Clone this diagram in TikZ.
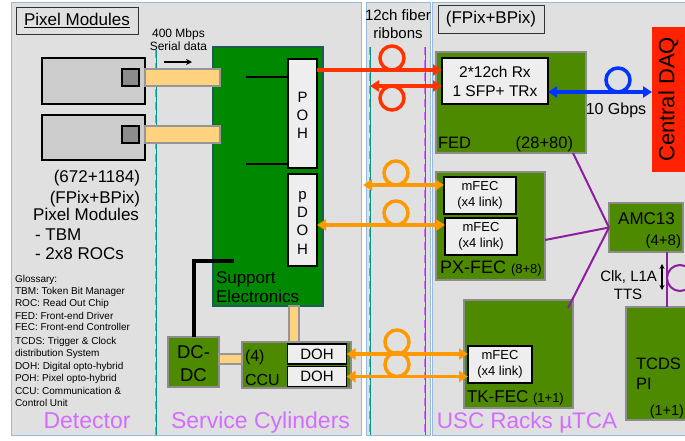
\documentclass[tikz,border=0pt]{standalone}
\usepackage{fontspec}
\setmainfont{Liberation Sans}
\usetikzlibrary{arrows.meta,calc}
\newcommand\fz[1]{\fontsize{#1}{#1}\selectfont}
\definecolor{panelbg}{RGB}{224,224,224}
\definecolor{panelborder}{RGB}{150,185,220}
\definecolor{oliveg}{RGB}{78,138,0}
\definecolor{boxgray}{RGB}{140,140,140}
\definecolor{supgreen}{RGB}{0,136,0}
\definecolor{supborder}{RGB}{30,90,90}
\definecolor{lightfill}{RGB}{238,238,238}
\definecolor{modfill}{RGB}{204,204,204}
\definecolor{sqfill}{RGB}{140,140,140}
\definecolor{barfill}{RGB}{255,210,128}
\definecolor{bargray}{RGB}{150,150,150}
\definecolor{fred}{RGB}{255,51,0}
\definecolor{forange}{RGB}{255,153,0}
\definecolor{fblue}{RGB}{0,51,255}
\definecolor{purpl}{RGB}{140,30,160}
\definecolor{ltpurp}{RGB}{210,110,255}
\definecolor{tealc}{RGB}{0,150,140}
\definecolor{daqred}{RGB}{255,34,0}
\begin{document}
\begin{tikzpicture}[x=1pt,y=-1pt,
  every node/.style={inner sep=0pt,outer sep=0pt},
  panel/.style={fill=panelbg,draw=panelborder,line width=1pt},
  olivebox/.style={draw=boxgray,line width=2pt,fill=oliveg},
  lightbox/.style={draw=black,line width=1.8pt,fill=lightfill,align=center},
  modbox/.style={draw=black,line width=1.8pt,fill=modfill},
  sqbox/.style={draw=black,line width=1.5pt,fill=sqfill},
  bar/.style={draw=bargray,line width=1.5pt,fill=barfill},
  titlebox/.style={draw=black!80,line width=1pt},
  fib/.style={line width=3.5pt},
  purpline/.style={draw=purpl,line width=2pt},
  dashdiv/.style={draw=ltpurp,line width=2.5pt,dash pattern=on 8pt off 5pt},
  tealdiv/.style={draw=tealc,line width=0.8pt},
  zone/.style={text=ltpurp,anchor=base},
  mfecfont/.style={font={\fontsize{13}{16}\selectfont}},
  >={Triangle[length=9pt,width=11pt]}
]
\useasboundingbox (0,0) rectangle (685,440);
\fill[white] (0,0) rectangle (685,440);
% panels
\path[panel] (11,2) rectangle (361,435);
\path[panel] (366,2) rectangle (430,435);
\path[panel] (432,2) rectangle (700,435);
% dividers
\draw[dashdiv] (156,50) -- (156,435);
\draw[tealdiv] (156,50) -- (156,435);
\draw[dashdiv] (370,47) -- (370,435);
\draw[tealdiv] (370,47) -- (370,435);
\draw[dashdiv] (425,47) -- (425,435);
\draw[tealdiv] (425,47) -- (425,435);

% title boxes
\node[titlebox,minimum width=122,minimum height=27] (ttl) at (77,20.5) {\fz{17}\underline{Pixel Modules}};
\node[titlebox,minimum width=106,minimum height=28] (fpb) at (491,19) {\fz{17}(FPix+BPix)};

% pixel modules
\node[modbox,minimum width=103,minimum height=46] (mod1) at (93.5,81) {};
\node[sqbox,minimum width=17,minimum height=17] (sq1) at (130.5,77.5) {};
\node[modbox,minimum width=103,minimum height=45] (mod2) at (93.5,137.5) {};
\node[sqbox,minimum width=17,minimum height=17] (sq2) at (130.5,134.5) {};

% support electronics
\node[draw=supborder,line width=1.5pt,fill=supgreen,minimum width=110,minimum height=259] (sup) at (268,176.5) {};
\node[lightbox,minimum width=29,minimum height=109] (POH) at (302.5,113.5) {};
\node[lightbox,minimum width=29,minimum height=92] (pDOH) at (302.5,220) {};
\node[align=center,font={\fontsize{15}{18}\selectfont}] (poht) at (302.5,115.7) {P\\O\\H};
\node[align=center,font={\fontsize{15}{18.3}\selectfont}] (pdoht) at (302.5,222.6) {p\\D\\O\\H};
\coordinate (s1) at (246,77);
\coordinate (s2) at (246,164);
\draw[line width=1.5pt] (s1) -- (POH.west |- s1);
\draw[line width=1.5pt] (s2) -- (POH.west |- s2);
\node[anchor=base west] (supt1) at (216,283) {\fz{17}Support};
\node[anchor=base west] (supt2) at (216,302) {\fz{17}Electronics};

% module bars
\draw[bar] (mod1.east |- sq1.north) rectangle ($(sup.west |- sq1.south)+(7,0)$);
\draw[bar] (mod2.east |- sq2.north) rectangle ($(sup.west |- sq2.south)+(7,0)$);

% DC-DC and CCU
\node[olivebox,minimum width=51,minimum height=50] (DCDC) at (193.5,362) {};
\node[anchor=base] (dct1) at (193.5,358.6) {\fz{18.5}DC-};
\node[anchor=base] (dct2) at (193.5,381) {\fz{18.5}DC};
\node[olivebox,minimum width=109,minimum height=46] (CCU) at (296.5,365) {};
\node[lightbox,minimum width=59,minimum height=20] (DOH1) at (317,354) {\fz{15}DOH};
\node[lightbox,minimum width=59,minimum height=20] (DOH2) at (317,376.5) {\fz{15}DOH};
\node[anchor=base west] (ccut1) at (245,361) {\fz{16}(4)};
\node[anchor=base west] (ccut2) at (245,385) {\fz{16}CCU};
\draw[bar] ($(DCDC.east)+(0,-8)$) rectangle ($(CCU.west)+(0,-1)$);
\draw[bar] ($(sup.south)+(21,0)$) rectangle ($(CCU.north)+(2.5,0)$);
\coordinate (Lend) at (234,261);
\draw[line width=4pt] (Lend) -- (Lend -| DCDC.north) -- (DCDC.north);

% serial data
\node[anchor=base] (t400) at (178.5,37) {\fz{12}400 Mbps};
\node[anchor=base] (tser) at (178.5,50) {\fz{12}Serial data};
\coordinate (sa1) at (164,62);
\coordinate (sa2) at (192,62);
\draw[line width=1.3pt,-{Stealth[length=6pt,width=6pt]}] (sa1) -- (sa2);

% detector texts
\node[anchor=base east] (pm1) at (140,182) {\fz{17}(672+1184)};
\node[anchor=base east] (pm2) at (140,203) {\fz{17}(FPix+BPix)};
\node[anchor=base east] (pm3) at (139,220) {\fz{17}Pixel Modules};
\node[anchor=base west] (pm4) at (35,240) {\fz{17}- TBM};
\node[anchor=base west] (pm5) at (35,259) {\fz{17}- 2x8 ROCs};
\foreach \t/\y [count=\i] in {Glossary:/282.5, TBM: Token Bit Manager/294.6, ROC: Read Out Chip/306.8, FED: Front-end Driver/319.4, FEC: Front-end Controller/330.8, TCDS: Trigger \& Clock/344.4, distribution System/356.6, DOH: Digital opto-hybrid/369.4, POH: Pixel opto-hybrid/381.6, CCU: Communication \&/394.4, Control Unit/406.6}
  \node[anchor=base west] (g\i) at (15,\y) {\fz{10}\t};

% zone labels
\node[zone] (zdet) at (87,428) {\fz{23}Detector};
\node[zone] (zsc) at (260.5,428) {\fz{23}Service Cylinders};
\node[zone] (zusc) at (527,428) {\fz{22.5}USC Racks µTCA};
\node[anchor=base] (fr1) at (398,20) {\fz{15}12ch fiber};
\node[anchor=base] (fr2) at (398,38) {\fz{15}ribbons};

% FED
\node[olivebox,minimum width=150,minimum height=101] (FED) at (511,102.5) {};
\node[lightbox,minimum width=106,minimum height=46,font={\fontsize{15.5}{19}\selectfont}] (FEDin) at (495,81) {2*12ch Rx\\1 SFP+ TRx};
\node[anchor=base west] (fedt) at (438,148) {\fz{16.5}FED};
\node[anchor=base east] (fedn) at (573,148) {\fz{16.5}(28+80)};

% Central DAQ
\node[fill=daqred,minimum width=48,minimum height=145] (DAQ) at (676,99.5) {};
\node[rotate=90] (daqt) at (668.5,99.5) {\fz{22}Central DAQ};

% PX-FEC
\node[olivebox,minimum width=109,minimum height=108] (PXFEC) at (490.5,226) {};
\node[lightbox,mfecfont,minimum width=72,minimum height=37] (mfec1) at (480,195.5) {mFEC\\(x4 link)};
\node[lightbox,mfecfont,minimum width=72,minimum height=37] (mfec2) at (481,236.5) {mFEC\\(x4 link)};
\node[anchor=base west] (pxt) at (440,273) {\fz{18}PX-FEC \fz{13}(8+8)};

% TK-FEC
\node[olivebox,minimum width=109,minimum height=108] (TKFEC) at (518.5,354) {};
\node[lightbox,mfecfont,minimum width=64,minimum height=37] (mfec3) at (500,364.5) {mFEC\\(x4 link)};
\node[anchor=base west] (tkt) at (467,402) {\fz{17}TK-FEC \fz{13}(1+1)};

% AMC13
\node[olivebox,minimum width=74,minimum height=49] (AMC) at (646,227.5) {};
\node[anchor=base] (amct) at (646.5,224) {\fz{17}AMC13};
\node[anchor=base east] (amcn) at (681,245) {\fz{15}(4+8)};

% TCDS
\node[olivebox,minimum width=74,minimum height=113] (TCDS) at (663,363.5) {};
\node[anchor=base west] (tc1) at (636,369) {\fz{16.5}TCDS};
\node[anchor=base west] (tc2) at (636,389) {\fz{16.5}PI};
\node[anchor=base east] (tc3) at (684,415) {\fz{14.5}(1+1)};

% purple links
\draw[purpline] ($(FED.south east)+(-13,0)$) -- (AMC.west);
\coordinate (pxp) at (0,240);
\draw[purpline] (PXFEC.east |- pxp) -- (AMC.west);
\draw[purpline] ($(TKFEC.north east)+(-5,8)$) -- (AMC.west);
\coordinate (tv) at (667,0);
\draw[purpline] (AMC.south -| tv) -- (TCDS.north -| tv);
\draw[purpline] (680,278) circle[radius=13];
\coordinate (ck1) at (662,264);
\coordinate (ck2) at (662,290);
\draw[line width=1.3pt,{Stealth[length=5pt,width=5pt]}-{Stealth[length=5pt,width=5pt]}] (ck1) -- (ck2);
\node[anchor=base east] (clk) at (657,281) {\fz{15}Clk, L1A};
\node[anchor=base] (tts) at (628,299) {\fz{15}TTS};

% red fibres
\draw[fib,fred] (392,58) circle[radius=12];
\draw[fib,fred] (392,98) circle[radius=12];
\coordinate (r1) at (0,70);
\coordinate (r2) at (370,86);
\draw[fib,fred,->] (POH.east |- r1) -- (FEDin.west |- r1);
\draw[fib,fred,<->] (r2) -- (FEDin.west |- r2);

% blue fibre
\draw[fib,fblue] (618,80) circle[radius=12];
\coordinate (b1) at (0,92);
\draw[fib,fblue,<->] (FEDin.east |- b1) -- (DAQ.west |- b1);
\node[anchor=base] (gb) at (616,114) {\fz{16}10 Gbps};

% orange fibres
\draw[fib,forange] (396,173) circle[radius=12];
\draw[fib,forange] (396,213) circle[radius=12];
\draw[fib,forange] (397,342) circle[radius=12];
\draw[fib,forange] (397,364.5) circle[radius=12];
\coordinate (o1) at (363,185);
\coordinate (o2) at (0,225);
\draw[fib,forange,<->] (o1) -- (mfec1.west |- o1);
\draw[fib,forange,<->] (pDOH.east |- o2) -- (mfec2.west |- o2);
\draw[fib,forange,<->] (DOH1.east) -- (mfec3.west |- DOH1.east);
\draw[fib,forange,<->] (DOH2.east) -- (mfec3.west |- DOH2.east);
\end{tikzpicture}
\end{document}
